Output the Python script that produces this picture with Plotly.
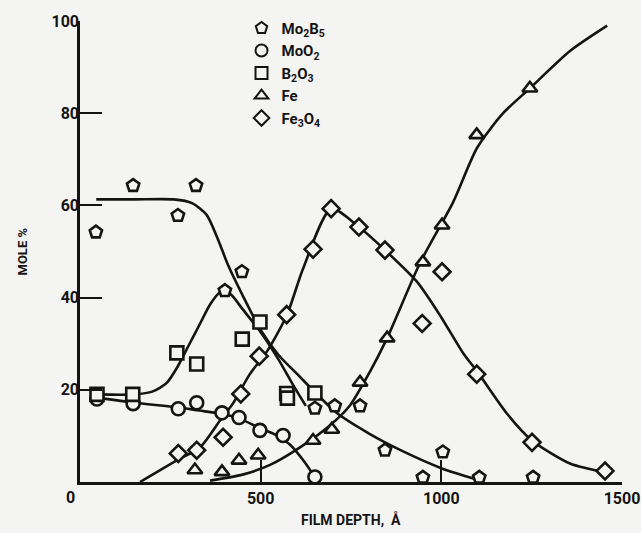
import plotly.graph_objects as go

# ---------------- data ----------------
# measured points
mo2b5_x = [44, 147, 271, 321, 401, 448, 650, 705, 775, 844, 949, 1004, 1105, 1254]
mo2b5_y = [54.2, 64.3, 57.8, 64.3, 41.5, 45.6, 16.0, 16.5, 16.5, 6.9, 1.0, 6.5, 1.0, 1.0]

moo2_x = [47, 147, 272, 323, 393, 440, 498, 562, 650]
moo2_y = [18.0, 17.0, 15.9, 17.2, 15.0, 14.0, 11.2, 10.1, 1.1]

b2o3_x = [47, 146, 268, 323, 449, 498, 572, 574, 650]
b2o3_y = [19.0, 19.0, 28.0, 25.6, 31.0, 34.7, 19.2, 18.2, 19.3]

fe_x = [318, 393, 440, 493, 645, 697, 775, 850, 949, 1002, 1098, 1245, 1448]
fe_y = [2.6, 2.2, 4.7, 5.8, 9.0, 11.4, 21.6, 31.2, 47.7, 55.7, 75.3, 85.4, 100.5]

fe3o4_x = [272, 323, 396, 445, 496, 572, 645, 695, 772, 844, 947, 1002, 1098, 1251, 1453]
fe3o4_y = [6.2, 6.9, 9.7, 19.1, 27.3, 36.3, 50.5, 59.3, 55.3, 50.3, 34.4, 45.6, 23.4, 8.6, 2.4]

# fitted curves (hand-drawn in the original)
mo2b5_fit_x = [45, 150, 260, 310, 350, 380, 410, 450, 500, 550, 600, 650, 710, 800, 890, 1000, 1100]
mo2b5_fit_y = [61.3, 61.3, 61.3, 60.5, 58, 53, 47, 40.5, 33, 27.5, 23.5, 19.5, 15, 10.5, 6.8, 3, 0.5]

b2o3_fit_x = [47, 150, 200, 240, 270, 300, 330, 360, 385, 400, 420, 450, 500, 550, 590, 625]
b2o3_fit_y = [19, 19, 19.6, 21.5, 25, 29.5, 34, 38.5, 41, 41.5, 40.5, 37.5, 32.5, 26.5, 21, 16.5]

moo2_fit_x = [47, 150, 270, 330, 390, 440, 500, 540, 580, 620, 650]
moo2_fit_y = [18.3, 17.2, 16.2, 15.5, 14.8, 13.8, 11.6, 10.3, 8.2, 4.5, 1.0]

fe_fit_x = [360, 450, 526, 609, 692, 747, 803, 850, 941, 1032, 1099, 1171, 1245, 1356, 1459]
fe_fit_y = [0.3, 1.6, 3.7, 7.5, 12.3, 16.6, 24, 31.2, 47.5, 60.6, 72.5, 80, 85.4, 93.5, 99]

fe3o4_fit_x = [166, 268, 332, 387, 423, 470, 518, 573, 617, 695, 772, 844, 933, 1000, 1060, 1099, 1182, 1251, 1356, 1459]
fe3o4_fit_y = [0, 4.7, 7.5, 13.3, 17, 23.4, 28.4, 36.3, 46.2, 59.3, 55.3, 50.3, 43.4, 35.7, 28, 24, 14.8, 9, 4, 2]

y_ticks = [20, 40, 60, 80, 100]
x_ticks = [500, 1000, 1500]

# ---------------- styling ----------------
FONT = "Roboto, Liberation Sans, sans-serif"
INK = "#141414"
BG = "#f4f4f2"

fig = go.Figure()

for fx, fy in [(mo2b5_fit_x, mo2b5_fit_y), (b2o3_fit_x, b2o3_fit_y), (moo2_fit_x, moo2_fit_y),
               (fe_fit_x, fe_fit_y), (fe3o4_fit_x, fe3o4_fit_y)]:
    fig.add_trace(go.Scatter(x=fx, y=fy, mode="lines", showlegend=False, hoverinfo="skip",
                             line=dict(color=INK, width=2.6, shape="spline", smoothing=0.7),
                             cliponaxis=False))

series = [
    ("<b>Mo<sub>2</sub>B<sub>5</sub></b>", mo2b5_x, mo2b5_y, "pentagon"),
    ("<b>MoO<sub>2</sub></b>", moo2_x, moo2_y, "circle"),
    ("<b>B<sub>2</sub>O<sub>3</sub></b>", b2o3_x, b2o3_y, "square"),
    ("<b>Fe</b>", fe_x, fe_y, "triangle-up"),
    ("<b>Fe<sub>3</sub>O<sub>4</sub></b>", fe3o4_x, fe3o4_y, "diamond"),
]
for name, xs, ys, sym in series:
    fig.add_trace(go.Scatter(x=xs, y=ys, mode="markers", name=name, cliponaxis=False,
                             marker=dict(symbol=sym, size=13, color=BG,
                                         line=dict(color=INK, width=2.6))))

fig.update_layout(
    width=641, height=533,
    margin=dict(l=80, r=19, t=17, b=51),
    paper_bgcolor=BG, plot_bgcolor=BG,
    font=dict(family=FONT, size=16, color=INK),
    showlegend=True,
    legend=dict(x=0.298, y=1.02, xanchor="left", yanchor="top", bgcolor="rgba(0,0,0,0)",
                font=dict(family=FONT, size=15, color=INK), tracegroupgap=0,
                itemsizing="constant", itemwidth=30),
    xaxis=dict(range=[0, 1500], tickvals=x_ticks, ticktext=[f"<b>{v}</b>" for v in x_ticks],
               ticks="inside", ticklen=22, tickwidth=2.4, tickcolor=INK, automargin=False,
               showline=True, linewidth=2.6, linecolor=INK, showgrid=False, zeroline=False,
               tickfont=dict(family=FONT, size=16, color=INK)),
    yaxis=dict(range=[0, 100], tickvals=y_ticks, ticktext=[f"<b>{v}</b>" for v in y_ticks],
               ticks="inside", ticklen=22, tickwidth=2.4, tickcolor=INK, automargin=False,
               ticklabelstandoff=-5,
               showline=True, linewidth=2.6, linecolor=INK, showgrid=False, zeroline=False,
               tickfont=dict(family=FONT, size=16, color=INK)),
    annotations=[
        dict(text="<b>FILM DEPTH,  Å</b>", xref="paper", yref="paper", x=0.5, y=0,
             xanchor="center", yanchor="middle", yshift=-37, showarrow=False,
             font=dict(family=FONT, size=14, color=INK)),
        dict(text="<b>MOLE %</b>", xref="paper", yref="paper", x=0, y=0.5,
             xanchor="center", yanchor="middle", xshift=-58, textangle=-90, showarrow=False,
             font=dict(family=FONT, size=13, color=INK)),
        dict(text="<b>0</b>", xref="paper", yref="paper", x=0, y=0,
             xanchor="center", yanchor="middle", xshift=-10, yshift=-15, showarrow=False,
             font=dict(family=FONT, size=16, color=INK)),
    ],
)

fig.write_html(
    "out.html",
    config={"displayModeBar": False},
    post_script="document.body.style.margin='0';document.body.style.background='#f4f4f2';",
)
